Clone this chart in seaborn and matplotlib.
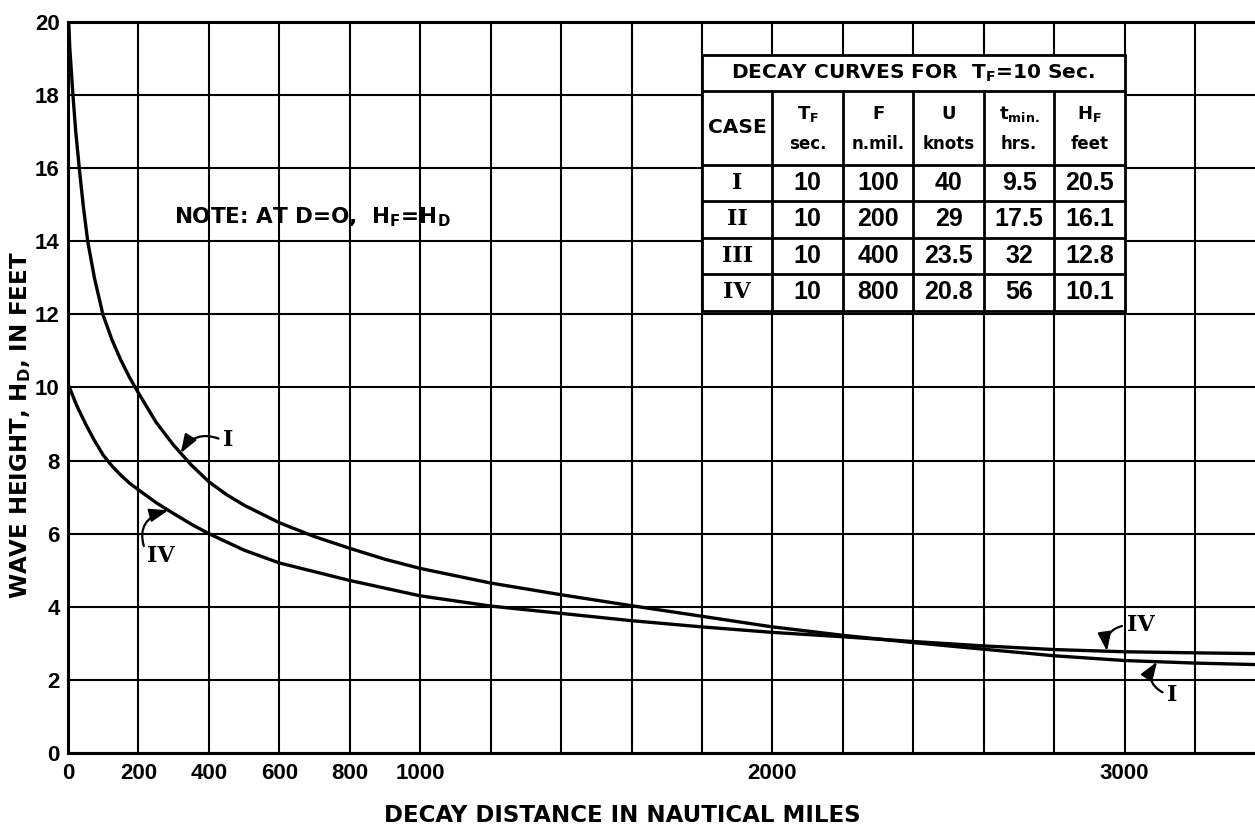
import numpy as np
import pandas as pd
import matplotlib
matplotlib.use("Agg")
import matplotlib.pyplot as plt
from matplotlib.patches import Rectangle
import seaborn as sns

# ---- table values (decay cases) ----
cases = ["I", "II", "III", "IV"]
period_tf = [10, 10, 10, 10]          # T_F, sec.
fetch_nmi = [100, 200, 400, 800]      # F, n.mil.
wind_knots = [40, 29, 23.5, 20.8]     # U, knots
tmin_hrs = [9.5, 17.5, 32, 56]        # t_min, hrs.
hf_feet = [20.5, 16.1, 12.8, 10.1]    # H_F, feet

# ---- decay curves (distance in nautical miles, height in feet) ----
dist_I = [0, 5, 14, 22, 32, 43, 56, 75, 99, 125, 150, 175, 200, 250, 300,
          350, 400, 450, 500, 600, 700, 800, 900, 1000, 1200, 1400, 1600,
          1800, 2000, 2200, 2400, 2600, 2800, 3000, 3200, 3370]
height_I = [hf_feet[0], 19.3, 18.0, 17.0, 16.0, 15.0, 14.0, 13.0, 12.0, 11.3,
            10.75, 10.27, 9.85, 9.05, 8.42, 7.88, 7.42, 7.07, 6.78, 6.30,
            5.92, 5.60, 5.30, 5.05, 4.65, 4.33, 4.03, 3.74, 3.45, 3.22, 3.02,
            2.84, 2.66, 2.53, 2.46, 2.42]

dist_IV = [0, 25, 50, 75, 100, 125, 150, 175, 200, 250, 300, 350, 400, 500,
           600, 800, 1000, 1200, 1400, 1600, 1800, 2000, 2200, 2400, 2600,
           2800, 3000, 3200, 3370]
height_IV = [hf_feet[3], 9.5, 9.0, 8.55, 8.15, 7.85, 7.6, 7.38, 7.2, 6.85,
             6.55, 6.26, 6.0, 5.55, 5.2, 4.72, 4.30, 4.02, 3.82, 3.62, 3.45,
             3.30, 3.18, 3.05, 2.93, 2.83, 2.77, 2.74, 2.72]

x_tick_labels = {0: "0", 200: "200", 400: "400", 600: "600", 800: "800",
                 1000: "1000", 2000: "2000", 3000: "3000"}
y_ticks = list(range(0, 21, 2))

curves = pd.concat([
    pd.DataFrame({"distance": dist_I, "height": height_I, "case": "I"}),
    pd.DataFrame({"distance": dist_IV, "height": height_IV, "case": "IV"}),
], ignore_index=True)

sns.set_style("white")
plt.rcParams["font.family"] = ["DejaVu Sans"]
plt.rcParams["font.weight"] = "bold"
plt.rcParams["text.color"] = "black"
plt.rcParams["axes.labelcolor"] = "black"
plt.rcParams["xtick.color"] = "black"
plt.rcParams["ytick.color"] = "black"
plt.rcParams["mathtext.fontset"] = "custom"
plt.rcParams["mathtext.rm"] = "DejaVu Sans:bold"
plt.rcParams["mathtext.it"] = "DejaVu Sans:bold"
plt.rcParams["mathtext.bf"] = "DejaVu Sans:bold"
plt.rcParams["mathtext.default"] = "rm"

NUM_FONT = ["Liberation Sans", "DejaVu Sans"]
ROMAN_FONT = ["DejaVu Serif"]

W, H = 1255, 827
fig = plt.figure(figsize=(W / 100, H / 100), dpi=100)
ax = fig.add_axes([68 / W, 1 - 753 / H, 1 - 68 / W, (753 - 22) / H])

sns.lineplot(data=curves, x="distance", y="height", hue="case",
             palette={"I": "black", "IV": "black"}, linewidth=2.4,
             legend=False, ax=ax, zorder=5)

ax.set_xlim(0, 3370)
ax.set_ylim(0, 20)
ax.set_xlabel("")
ax.set_ylabel("")

# grid every 200 n.mi. and 2 ft
xt = list(range(0, 3370, 200))
ax.set_xticks(xt)
ax.set_xticklabels([x_tick_labels.get(v, "") for v in xt])
ax.set_yticks(y_ticks)
ax.set_yticklabels([str(v) for v in y_ticks])
ax.grid(True, color="black", linewidth=1.5)
ax.set_axisbelow(True)
ax.tick_params(length=0, labelsize=16, colors="black")
ax.tick_params(axis="x", pad=7)
ax.tick_params(axis="y", pad=6)
for lab in ax.get_xticklabels() + ax.get_yticklabels():
    lab.set_family(NUM_FONT)
    lab.set_fontweight("bold")

for side in ("left", "bottom", "top"):
    ax.spines[side].set_visible(True)
    ax.spines[side].set_color("black")
    ax.spines[side].set_linewidth(2.2)
ax.spines["right"].set_visible(False)

# axis titles
fig.text(21 / W, 1 - 425 / H, r"WAVE HEIGHT, H$_D$, IN FEET", rotation=90,
         ha="center", va="center", fontsize=16.5, fontweight="bold")
fig.text(622 / W, 1 - 815 / H, "DECAY DISTANCE IN NAUTICAL MILES",
         ha="center", va="center", fontsize=16.5, fontweight="bold")

# note
ax.text(300, 14.65, r"NOTE: AT D=O,  H$_F$=H$_D$", ha="left", va="center",
        fontsize=15.5, fontweight="bold", zorder=6)

# ---- case table ----
col_edges = [1800, 2000, 2200, 2400, 2600, 2800, 3000]
row_edges = [19.1, 18.1, 16.1, 15.1, 14.1, 13.1, 12.1]
lw_tab = 2.0
ax.add_patch(Rectangle((col_edges[0], row_edges[-1]),
                       col_edges[-1] - col_edges[0],
                       row_edges[0] - row_edges[-1],
                       facecolor="white", edgecolor="black", lw=lw_tab,
                       zorder=3))
for yv in row_edges[1:-1]:
    ax.plot([col_edges[0], col_edges[-1]], [yv, yv], color="black",
            lw=lw_tab, zorder=4)
for xv in col_edges[1:-1]:
    ax.plot([xv, xv], [row_edges[1], row_edges[-1]], color="black",
            lw=lw_tab, zorder=4)

xc = [(col_edges[i] + col_edges[i + 1]) / 2 for i in range(6)]
ax.text((col_edges[0] + col_edges[-1]) / 2, (row_edges[0] + row_edges[1]) / 2,
        r"DECAY CURVES FOR  T$_F$=10 Sec.", ha="center", va="center",
        fontsize=14.5, fontweight="bold", zorder=6)

hdr_y = (row_edges[1] + row_edges[2]) / 2
ax.text(xc[0], hdr_y, "CASE", ha="center", va="center", fontsize=14.5,
        fontweight="bold", zorder=6)
head_top = [r"T$_F$", "F", "U", r"t$_{min.}$", r"H$_F$"]
head_bot = ["sec.", "n.mil.", "knots", "hrs.", "feet"]
for i, (t, b) in enumerate(zip(head_top, head_bot)):
    ax.text(xc[i + 1], hdr_y + 0.38, t, ha="center", va="center",
            fontsize=13, fontweight="bold", zorder=6)
    ax.text(xc[i + 1], hdr_y - 0.45, b, ha="center", va="center",
            fontsize=12, fontweight="bold", zorder=6)


def fmt(v):
    return f"{v:g}"


for r, case in enumerate(cases):
    yc = (row_edges[r + 2] + row_edges[r + 3]) / 2
    ax.text(xc[0], yc, case, ha="center", va="center", fontsize=16,
            fontweight="bold", family=ROMAN_FONT, zorder=6)
    vals = [period_tf[r], fetch_nmi[r], wind_knots[r], tmin_hrs[r], hf_feet[r]]
    for i, v in enumerate(vals):
        ax.text(xc[i + 1], yc, fmt(v), ha="center", va="center", fontsize=18,
                fontweight="bold", family=NUM_FONT, zorder=6)


# ---- curve labels with leaders ----
def curve_at(x, xs, ys):
    return float(np.interp(x, xs, ys))


arrow = dict(arrowstyle="-|>,head_length=0.7,head_width=0.25", color="black",
             lw=1.6, shrinkA=1, shrinkB=0, relpos=(0.0, 0.5))

ax.annotate("I", xy=(320, curve_at(320, dist_I, height_I)), xytext=(455, 8.55),
            ha="center", va="center", fontsize=16, fontweight="bold",
            family=ROMAN_FONT, zorder=6,
            arrowprops=dict(arrow, connectionstyle="arc3,rad=0.45"))
ax.annotate("IV", xy=(285, curve_at(285, dist_IV, height_IV)),
            xytext=(265, 5.4), ha="center", va="center", fontsize=16,
            fontweight="bold", family=ROMAN_FONT, zorder=6,
            arrowprops=dict(arrow, connectionstyle="arc3,rad=-0.6"))
ax.annotate("IV", xy=(2950, curve_at(2950, dist_IV, height_IV)),
            xytext=(3045, 3.5), ha="center", va="center", fontsize=16,
            fontweight="bold", family=ROMAN_FONT, zorder=6,
            arrowprops=dict(arrow, connectionstyle="arc3,rad=0.5"))
ax.annotate("I", xy=(3092, curve_at(3092, dist_I, height_I)),
            xytext=(3135, 1.6), ha="center", va="center", fontsize=16,
            fontweight="bold", family=ROMAN_FONT, zorder=6,
            arrowprops=dict(arrow, connectionstyle="arc3,rad=-0.6"))

fig.savefig("out.png", dpi=100, facecolor="white")
